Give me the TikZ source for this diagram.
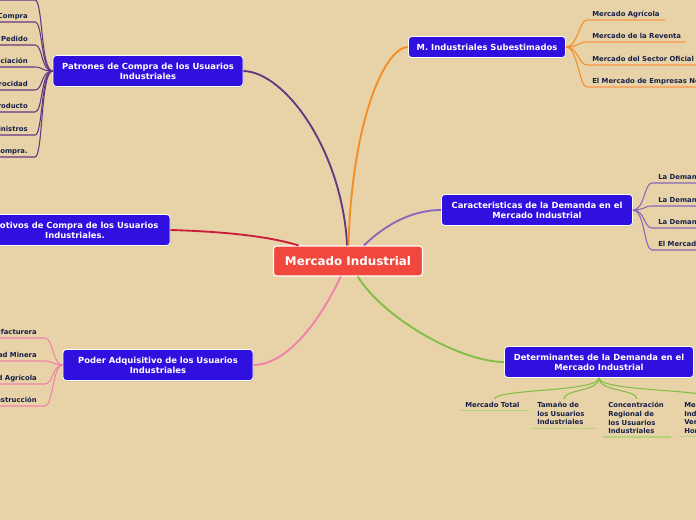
\documentclass[tikz,border=0pt]{standalone}
\usepackage{fontspec}
\setmainfont{DejaVu Sans}
\usetikzlibrary{shadows}

\definecolor{bgtan}{RGB}{232,211,168}
\definecolor{boxblue}{RGB}{48,16,222}
\definecolor{rootred}{RGB}{240,72,60}
\definecolor{leafink}{RGB}{22,32,72}
\definecolor{brpurple}{RGB}{100,55,130}
\definecolor{brorange}{RGB}{245,140,40}
\definecolor{ulorange}{RGB}{245,172,105}
\definecolor{brlilac}{RGB}{135,105,185}
\definecolor{brred}{RGB}{200,30,60}
\definecolor{brpink}{RGB}{240,130,170}
\definecolor{brgreen}{RGB}{130,190,70}
\definecolor{ulgreen}{RGB}{178,212,125}

\begin{document}
\begin{tikzpicture}[
    x=0.75pt, y=-0.75pt,
    root/.style={draw=white, line width=0.8pt, fill=rootred, rounded corners=2.5pt, text=white, font=\fontsize{8.9}{10.5}\selectfont\bfseries, minimum width=111.75pt, minimum height=22.5pt},
    topic/.style={draw=white, line width=0.6pt, fill=boxblue, rounded corners=2.5pt, text=white, font=\fontsize{6.3}{7.6}\selectfont\bfseries, align=center, minimum width=142.5pt, minimum height=23.25pt, drop shadow={shadow xshift=0.4pt, shadow yshift=-0.6pt, opacity=0.25}},
    leaf/.style={text=leafink, font=\fontsize{5.15}{6.5}\selectfont\bfseries, inner ysep=1.5pt, text depth=1.2pt},
    subleaf/.style={text=leafink, font=\fontsize{5.15}{6.5}\selectfont\bfseries, align=left, anchor=north west, inner xsep=3.75pt, inner ysep=2.2pt},
    branch/.style={line width=1.4pt},
    twig/.style={line width=0.8pt}
]

    % background and frame
    \fill[bgtan] (0,0) rectangle (696,520);
    \clip (0,0) rectangle (696,520);

    % root
    \node[root] (root) at (348,261) {Mercado Industrial};

    % topics
    \node[topic] (patrones) at (148,71) {Patrones de Compra de los Usuarios\\Industriales};
    \node[topic] (motivos) at (75,230) {Motivos de Compra de los Usuarios\\Industriales.};
    \node[topic] (poder) at (158,365) {Poder Adquisitivo de los Usuarios\\Industriales};
    \node[topic, minimum width=117.75pt, minimum height=15.75pt] (subest) at (487,47) {M. Industriales Subestimados};
    \node[topic, minimum width=143.25pt] (caract) at (537,210) {Caracteristicas de la Demanda en el\\Mercado Industrial};
    \node[topic, minimum width=141.75pt] (determ) at (599,362) {Determinantes de la Demanda en el\\Mercado Industrial};

    % root branches
    \draw[branch, brpurple] (root) .. controls (342,150) and (285,72) .. (patrones.east);
    \draw[branch, brorange] (root) .. controls (352,120) and (385,47) .. (subest.west);
    \draw[branch, brlilac] (root) .. controls (388,222) and (415,210) .. (caract.west);
    \draw[branch, brred] (root) .. controls (262,234) and (205,231) .. (motivos.east);
    \draw[branch, brpink] (root) .. controls (318,325) and (285,365) .. (poder.east);
    \draw[branch, brgreen] (root) .. controls (385,320) and (462,362) .. (determ.west);

    % Patrones leaves
    \node[leaf, anchor=south east, inner xsep=5.25pt] (pat0) at (35,0) {Compra Directa};
    \node[leaf, anchor=south east, inner xsep=5.25pt] (pat1) at (35,22) {Frecuencia de Compra};
    \node[leaf, anchor=south east, inner xsep=5.25pt] (pat2) at (35,45) {Tamaño del Pedido};
    \node[leaf, anchor=south east, inner xsep=5.25pt] (pat3) at (35,67) {Periodo de Negociación};
    \node[leaf, anchor=south east, inner xsep=5.25pt] (pat4) at (35,90) {Reciprocidad};
    \node[leaf, anchor=south east, inner xsep=5.25pt] (pat5) at (35,112) {Servicio del Producto};
    \node[leaf, anchor=south east, inner xsep=5.25pt] (pat6) at (35,135) {Confiabilidad de Suministros};
    \node[leaf, anchor=south east, inner xsep=5.25pt] (pat7) at (35,157) {Arrendamiento en vez de Compra.};

    \draw[twig, brpurple] (patrones.west) .. controls +(-12,0) and +(8,0) .. (pat0.south east) -- (pat0.south west);
    \draw[twig, brpurple] (patrones.west) .. controls +(-12,0) and +(8,0) .. (pat1.south east) -- (pat1.south west);
    \draw[twig, brpurple] (patrones.west) .. controls +(-12,0) and +(8,0) .. (pat2.south east) -- (pat2.south west);
    \draw[twig, brpurple] (patrones.west) .. controls +(-12,0) and +(8,0) .. (pat3.south east) -- (pat3.south west);
    \draw[twig, brpurple] (patrones.west) .. controls +(-12,0) and +(8,0) .. (pat4.south east) -- (pat4.south west);
    \draw[twig, brpurple] (patrones.west) .. controls +(-12,0) and +(8,0) .. (pat5.south east) -- (pat5.south west);
    \draw[twig, brpurple] (patrones.west) .. controls +(-12,0) and +(8,0) .. (pat6.south east) -- (pat6.south west);
    \draw[twig, brpurple] (patrones.west) .. controls +(-12,0) and +(8,0) .. (pat7.south east) -- (pat7.south west);

    % Poder leaves
    \node[leaf, anchor=south east, inner xsep=6pt] (pod1) at (45,338) {Industria Manufacturera};
    \node[leaf, anchor=south east, inner xsep=6pt] (pod2) at (45,361) {Actividad Minera};
    \node[leaf, anchor=south east, inner xsep=6pt] (pod3) at (45,384) {Actividad Agrícola};
    \node[leaf, anchor=south east, inner xsep=6pt] (pod4) at (45,406) {Industria de la Construcción};

    \draw[twig, brpink] (poder.west) .. controls +(-10,0) and +(8,0) .. (pod1.south east) -- (pod1.south west);
    \draw[twig, brpink] (poder.west) .. controls +(-10,0) and +(8,0) .. (pod2.south east) -- (pod2.south west);
    \draw[twig, brpink] (poder.west) .. controls +(-10,0) and +(8,0) .. (pod3.south east) -- (pod3.south west);
    \draw[twig, brpink] (poder.west) .. controls +(-10,0) and +(8,0) .. (pod4.south east) -- (pod4.south west);

    % Subestimados leaves
    \node[leaf, anchor=south west, inner xsep=3.75pt] (sub1) at (587,20) {Mercado Agrícola};
    \node[leaf, anchor=south west, inner xsep=3.75pt] (sub2) at (587,42) {Mercado de la Reventa};
    \node[leaf, anchor=south west, inner xsep=3.75pt] (sub3) at (587,65) {Mercado del Sector Oficial};
    \node[leaf, anchor=south west, inner xsep=3.75pt] (sub4) at (587,87) {El Mercado de Empresas No Lucrativas};

    \draw[twig, brorange] (subest.east) .. controls +(12,0) and +(-8,0) .. (sub1.south west);
    \draw[twig, brorange] (subest.east) .. controls +(12,0) and +(-8,0) .. (sub2.south west);
    \draw[twig, brorange] (subest.east) .. controls +(12,0) and +(-8,0) .. (sub3.south west);
    \draw[twig, brorange] (subest.east) .. controls +(12,0) and +(-8,0) .. (sub4.south west);
    \draw[twig, ulorange] (sub1.south west) -- (sub1.south east);
    \draw[twig, ulorange] (sub2.south west) -- (sub2.south east);
    \draw[twig, ulorange] (sub3.south west) -- (sub3.south east);
    \draw[twig, ulorange] (sub4.south west) -- (sub4.south east);

    % Caracteristicas leaves
    \node[leaf, anchor=south west, inner xsep=4.5pt] (car1) at (652,183) {La Demanda es Derivada};
    \node[leaf, anchor=south west, inner xsep=4.5pt] (car2) at (652,206) {La Demanda es Inelástica};
    \node[leaf, anchor=south west, inner xsep=4.5pt] (car3) at (652,228) {La Demanda es Fluctuante};
    \node[leaf, anchor=south west, inner xsep=4.5pt] (car4) at (652,250) {El Mercado está Bien Informado};

    \draw[twig, brlilac] (caract.east) .. controls +(12,0) and +(-8,0) .. (car1.south west) -- (car1.south east);
    \draw[twig, brlilac] (caract.east) .. controls +(12,0) and +(-8,0) .. (car2.south west) -- (car2.south east);
    \draw[twig, brlilac] (caract.east) .. controls +(12,0) and +(-8,0) .. (car3.south west) -- (car3.south east);
    \draw[twig, brlilac] (caract.east) .. controls +(12,0) and +(-8,0) .. (car4.south west) -- (car4.south east);

    % Determinantes leaves
    \node[subleaf, text width=44pt] (det1) at (460,399) {Mercado~Total};
    \node[subleaf, text width=40pt] (det2) at (532,399) {Tamaño de\\los Usuarios\\Industriales};
    \node[subleaf, text width=43pt] (det3) at (603,399) {Concentración\\Regional de\\los Usuarios\\Industriales};
    \node[subleaf, text width=45pt] (det4) at (679,399) {Mercados\\Industriales\\Verticales y\\Horizontales};

    \draw[twig, brgreen] (determ.south) .. controls +(0,14) and +(0,-10) .. (det1.north);
    \draw[twig, brgreen] (determ.south) .. controls +(0,14) and +(0,-10) .. (det2.north);
    \draw[twig, brgreen] (determ.south) .. controls +(0,14) and +(0,-10) .. (det3.north);
    \draw[twig, brgreen] (determ.south) .. controls +(0,14) and +(0,-10) .. (det4.north);
    \draw[twig, ulgreen] (det1.south west) -- (det1.south east);
    \draw[twig, ulgreen] (det2.south west) -- (det2.south east);
    \draw[twig, ulgreen] (det3.south west) -- (det3.south east);
    \draw[twig, ulgreen] (det4.south west) -- (det4.south east);

\end{tikzpicture}
\end{document}
